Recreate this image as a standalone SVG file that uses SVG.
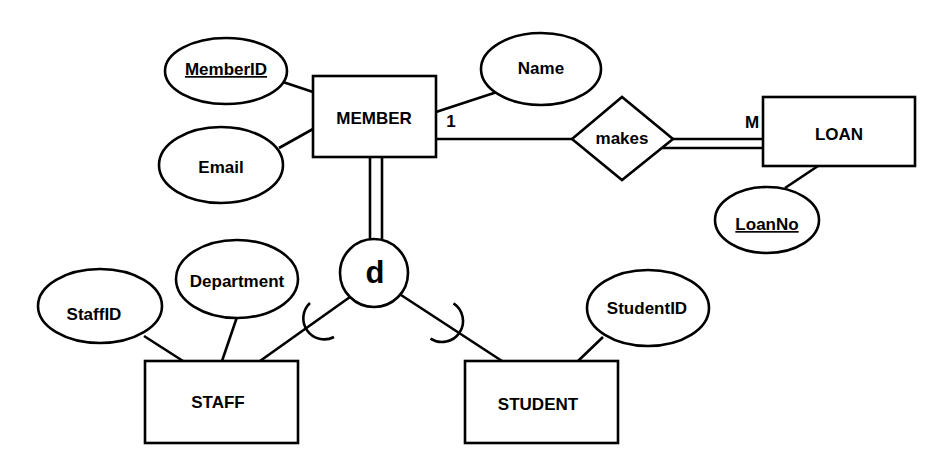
<svg xmlns="http://www.w3.org/2000/svg" width="940" height="474" viewBox="0 0 940 474">
<style>
.s{fill:#fff;stroke:#000;stroke-width:2.6}
.l{fill:none;stroke:#000;stroke-width:2.6}
text{font-family:"Liberation Sans",Arial,sans-serif;font-weight:bold;font-size:17px;fill:#000;text-anchor:middle}
.u{text-decoration:underline}
</style>
<rect width="940" height="474" fill="#fff"/>
<g id="connectors">
<line class="l" x1="283" y1="82" x2="313" y2="92"/>
<line class="l" x1="279" y1="148" x2="313" y2="129"/>
<line class="l" x1="436" y1="112" x2="497" y2="92"/>
<line class="l" x1="436" y1="139" x2="572" y2="139"/>
<line class="l" x1="673" y1="139" x2="763" y2="139"/>
<line class="l" x1="662" y1="148" x2="763" y2="148"/>
<line class="l" x1="785" y1="188" x2="818" y2="166"/>
<line class="l" x1="370" y1="157" x2="370" y2="240"/>
<line class="l" x1="382" y1="157" x2="382" y2="240"/>
<line class="l" x1="350" y1="297" x2="260" y2="361"/>
<line class="l" x1="401" y1="295" x2="502" y2="361"/>
<path class="l" d="M310,303 A21,21 0 0 0 334,337"/>
<path class="l" d="M453.5,303.4 A21,21 0 0 1 430.5,338.6"/>
<line class="l" x1="144" y1="336" x2="183" y2="361"/>
<line class="l" x1="237" y1="317" x2="222" y2="361"/>
<line class="l" x1="603" y1="337" x2="578" y2="361"/>
<text x="451" y="127">1</text>
<text x="752" y="128">M</text>
</g>
<g id="member"><rect class="s" x="313" y="76" width="123" height="81"/><text x="374" y="124">MEMBER</text></g>
<g id="memberid"><ellipse class="s" cx="226" cy="71" rx="61" ry="33"/><text class="u" x="226" y="75">MemberID</text></g>
<g id="email"><ellipse class="s" cx="221" cy="165" rx="62" ry="38"/><text x="221" y="173">Email</text></g>
<g id="name"><ellipse class="s" cx="541" cy="69" rx="60" ry="36"/><text x="541" y="74">Name</text></g>
<g id="makes"><polygon class="s" points="572,139 622,97 673,139 622,180"/><text x="622" y="144">makes</text></g>
<g id="loan"><rect class="s" x="763" y="97" width="152" height="69"/><text x="839" y="140">LOAN</text></g>
<g id="loanno"><ellipse class="s" cx="767" cy="220" rx="52" ry="33"/><text class="u" x="767" y="230">LoanNo</text></g>
<g id="disjoint"><circle class="s" cx="374" cy="273" r="34"/><text x="375" y="283" style="font-size:31px">d</text></g>
<g id="staff"><rect class="s" x="145" y="361" width="153" height="82"/><text x="218" y="408">STAFF</text></g>
<g id="staffid"><ellipse class="s" cx="100" cy="306" rx="62" ry="37"/><text x="94" y="320">StaffID</text></g>
<g id="department"><ellipse class="s" cx="237" cy="279" rx="61" ry="39"/><text x="237" y="287">Department</text></g>
<g id="student"><rect class="s" x="465" y="361" width="153" height="82"/><text x="538" y="410">STUDENT</text></g>
<g id="studentid"><ellipse class="s" cx="648" cy="308" rx="61" ry="38"/><text x="647" y="314">StudentID</text></g>
</svg>
